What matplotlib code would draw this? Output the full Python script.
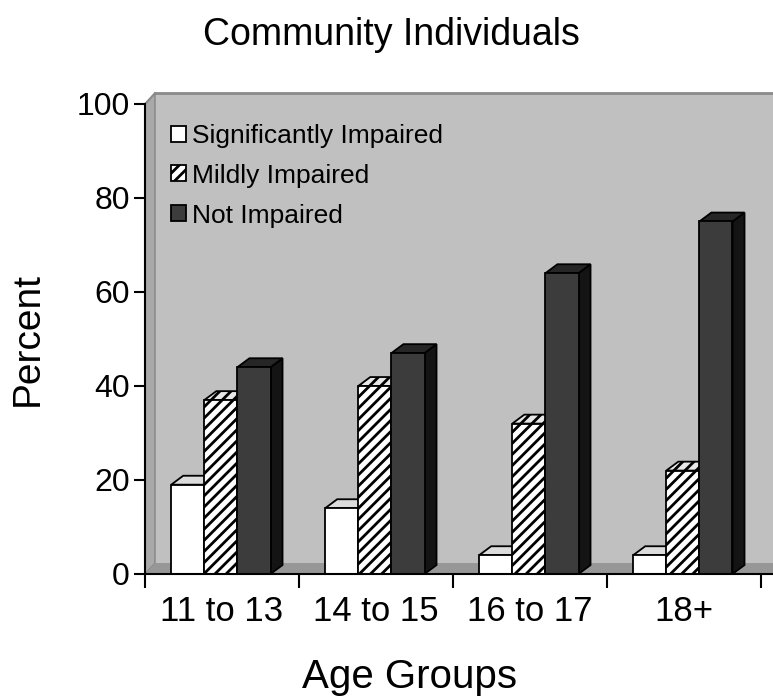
import numpy as np
import matplotlib.pyplot as plt
from matplotlib.patches import Rectangle, Polygon, Patch

plt.rcParams['font.family'] = ['Liberation Sans', 'DejaVu Sans']
plt.rcParams['hatch.linewidth'] = 2.0

OUTPUT_FILENAME = "out.png"

groups = ["11 to 13", "14 to 15", "16 to 17", "18+"]
series = ["Significantly Impaired", "Mildly Impaired", "Not Impaired"]
significantly = [19, 14, 4, 4]
mildly = [37, 40, 32, 22]
not_impaired = [44, 47, 64, 75]

# bar looks: front face, top face, side face, hatch
styles = [
    dict(front="white", top="#dcdcdc", side="#bdbdbd", hatch=None),
    dict(front="white", top="#e8e8e8", side="#9a9a9a", hatch="///"),
    dict(front="#3c3c3c", top="#262626", side="#141414", hatch=None),
]

BAR_W = 0.215
BAR_START = 0.17
DX, DY = 0.078, 1.9        # depth offset of each bar
WX, WY = 0.065, 2.3        # depth offset of the back wall
XMAX = 4.078

fig = plt.figure(figsize=(7.73, 6.97), dpi=100)
ax = fig.add_axes([0.1876, 0.1765, 0.8124, 0.6743])
ax.set_xlim(0, XMAX)
ax.set_ylim(0, 100)
ax.set_facecolor("none")

# walls and floor
ax.add_patch(Polygon([(WX, WY), (XMAX + 0.2, WY), (XMAX + 0.2, 100 + WY), (WX, 100 + WY)],
                     closed=True, facecolor="#c0c0c0", edgecolor="none", clip_on=False, zorder=0))
ax.add_patch(Polygon([(0, 0), (WX, WY), (WX, 100 + WY), (0, 100)],
                     closed=True, facecolor="#a9a9a9", edgecolor="#7a7a7a", lw=0.8, clip_on=False, zorder=0.5))
ax.add_patch(Polygon([(0, 0), (XMAX + 0.2, 0), (XMAX + 0.2, WY), (WX, WY)],
                     closed=True, facecolor="#979797", edgecolor="none", clip_on=False, zorder=0.5))
ax.plot([WX, XMAX + 0.2], [100 + WY, 100 + WY], color="#8a8a8a", lw=2, clip_on=False, zorder=0.6)
ax.plot([0, WX], [100, 100 + WY], color="#8a8a8a", lw=1.5, clip_on=False, zorder=0.6)

data = [significantly, mildly, not_impaired]
z = 2
for g in range(len(groups)):
    for s, vals in enumerate(data):
        st = styles[s]
        x0 = g + BAR_START + s * BAR_W
        h = vals[g]
        ax.add_patch(Polygon([(x0 + BAR_W, 0), (x0 + BAR_W + DX, DY), (x0 + BAR_W + DX, h + DY), (x0 + BAR_W, h)],
                             closed=True, facecolor=st["side"], edgecolor="black", lw=1.3, zorder=z))
        ax.add_patch(Polygon([(x0, h), (x0 + BAR_W, h), (x0 + BAR_W + DX, h + DY), (x0 + DX, h + DY)],
                             closed=True, facecolor=st["top"], edgecolor="black", lw=1.3,
                             hatch=st["hatch"], zorder=z))
        ax.add_patch(Rectangle((x0, 0), BAR_W, h, facecolor=st["front"], edgecolor="black", lw=1.3,
                               hatch=st["hatch"], zorder=z + 0.5))
        z += 1

# axes
for side in ["top", "right"]:
    ax.spines[side].set_visible(False)
ax.spines["left"].set_linewidth(1.5)
ax.spines["bottom"].set_linewidth(1.5)
ax.spines["bottom"].set_zorder(50)

ax.set_yticks([0, 20, 40, 60, 80, 100])
ax.tick_params(axis="y", length=8, width=1.5, pad=3, labelsize=23)
ax.set_xticks(np.arange(len(groups) + 1))
ax.set_xticklabels([])
ax.set_xticks(np.arange(len(groups)) + 0.5, minor=True)
ax.set_xticklabels(groups, minor=True)
ax.tick_params(axis="x", which="major", length=10, width=1.5)
ax.tick_params(axis="x", which="minor", length=0, pad=15, labelsize=25)

handles = [Patch(facecolor=st["front"], edgecolor="black", hatch=st["hatch"], lw=1.3) for st in styles]
ax.legend(handles, series, loc="upper left", bbox_to_anchor=(0.025, 0.98), frameon=False,
          fontsize=19, handlelength=0.55, handleheight=0.55, handletextpad=0.25,
          labelspacing=0.6, borderaxespad=0)

fig.text(391 / 773, 1 - 35 / 697, "Community Individuals", ha="center", va="center", fontsize=27)
fig.text(28 / 773, 1 - 339 / 697, "Percent", ha="center", va="center", rotation=90, fontsize=28)
fig.text(410 / 773, 1 - 677 / 697, "Age Groups", ha="center", va="center", fontsize=29)

fig.savefig(OUTPUT_FILENAME, dpi=100)
